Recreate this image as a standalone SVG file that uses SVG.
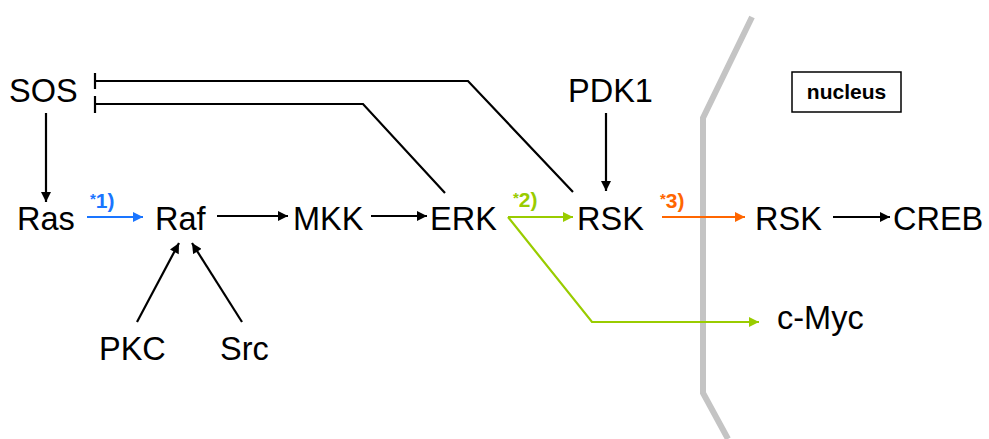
<svg xmlns="http://www.w3.org/2000/svg" width="989" height="439" viewBox="0 0 989 439">
<style>
text{font-family:"Liberation Sans",Arial,sans-serif;fill:#000}
.n{font-size:32.5px}
.lbl{font-size:21px;font-weight:bold}
.k{fill:none;stroke:#000;stroke-width:2.2}
.b{fill:none;stroke:#1a75ff;stroke-width:2.2}
.g{fill:none;stroke:#99cc00;stroke-width:2.2}
.o{fill:none;stroke:#ff6600;stroke-width:2.2}
</style>
<defs>
<marker id="ak" viewBox="0 0 10 10" refX="10" refY="5" markerWidth="11" markerHeight="10" markerUnits="userSpaceOnUse" orient="auto"><path d="M0,0L10,5L0,10z" fill="#000"/></marker>
<marker id="ab" viewBox="0 0 10 10" refX="10" refY="5" markerWidth="11" markerHeight="10" markerUnits="userSpaceOnUse" orient="auto"><path d="M0,0L10,5L0,10z" fill="#1a75ff"/></marker>
<marker id="ag" viewBox="0 0 10 10" refX="10" refY="5" markerWidth="11" markerHeight="10" markerUnits="userSpaceOnUse" orient="auto"><path d="M0,0L10,5L0,10z" fill="#99cc00"/></marker>
<marker id="ao" viewBox="0 0 10 10" refX="10" refY="5" markerWidth="11" markerHeight="10" markerUnits="userSpaceOnUse" orient="auto"><path d="M0,0L10,5L0,10z" fill="#ff6600"/></marker>
</defs>
<g id="membrane"><path d="M752,17L703,118L703,393L728,439" fill="none" stroke="#c4c4c4" stroke-width="6"/></g>
<g id="connectors">
<path class="k" d="M46,113V202" marker-end="url(#ak)"/>
<path class="b" d="M87,217H143" marker-end="url(#ab)"/>
<path class="k" d="M217,216H288" marker-end="url(#ak)"/>
<path class="k" d="M371,216H427" marker-end="url(#ak)"/>
<path class="k" d="M573,192L468,81H95"/>
<path class="k" d="M95,73V89"/>
<path class="k" d="M445,193L363,104H95"/>
<path class="k" d="M95,96V113"/>
<path class="g" d="M508,217H573" marker-end="url(#ag)"/>
<path class="g" d="M508,217L592,322H759" marker-end="url(#ag)"/>
<path class="k" d="M606,113V191" marker-end="url(#ak)"/>
<path class="o" d="M662,217H745" marker-end="url(#ao)"/>
<path class="k" d="M833,217H890" marker-end="url(#ak)"/>
<path class="k" d="M137,322L179,243" marker-end="url(#ak)"/>
<path class="k" d="M242,322L192,243" marker-end="url(#ak)"/>
<text class="lbl" x="90" y="208" style="fill:#1a75ff"><tspan font-size="15" dy="-4">*</tspan><tspan dy="4">1)</tspan></text>
<text class="lbl" x="513" y="207" style="fill:#99cc00"><tspan font-size="15" dy="-4">*</tspan><tspan dy="4">2)</tspan></text>
<text class="lbl" x="660" y="208" style="fill:#ff6600"><tspan font-size="15" dy="-4">*</tspan><tspan dy="4">3)</tspan></text>
</g>
<g id="SOS"><text class="n" x="9" y="102">SOS</text></g>
<g id="Ras"><text class="n" x="17" y="230">Ras</text></g>
<g id="Raf"><text class="n" x="155" y="230">Raf</text></g>
<g id="MKK"><text class="n" x="293" y="230">MKK</text></g>
<g id="ERK"><text class="n" x="430" y="230">ERK</text></g>
<g id="RSK"><text class="n" x="577" y="230">RSK</text></g>
<g id="PDK1"><text class="n" x="568" y="102">PDK1</text></g>
<g id="RSK2"><text class="n" x="755" y="230">RSK</text></g>
<g id="CREB"><text class="n" x="893" y="230">CREB</text></g>
<g id="cMyc"><text class="n" x="777" y="329">c-Myc</text></g>
<g id="PKC"><text class="n" x="99" y="360">PKC</text></g>
<g id="Src"><text class="n" x="220" y="360">Src</text></g>
<g id="nucleus"><rect x="792" y="72" width="109" height="40" fill="#fff" stroke="#000" stroke-width="1.5"/><text x="846.5" y="99" text-anchor="middle" font-size="21" font-weight="bold">nucleus</text></g>
</svg>
